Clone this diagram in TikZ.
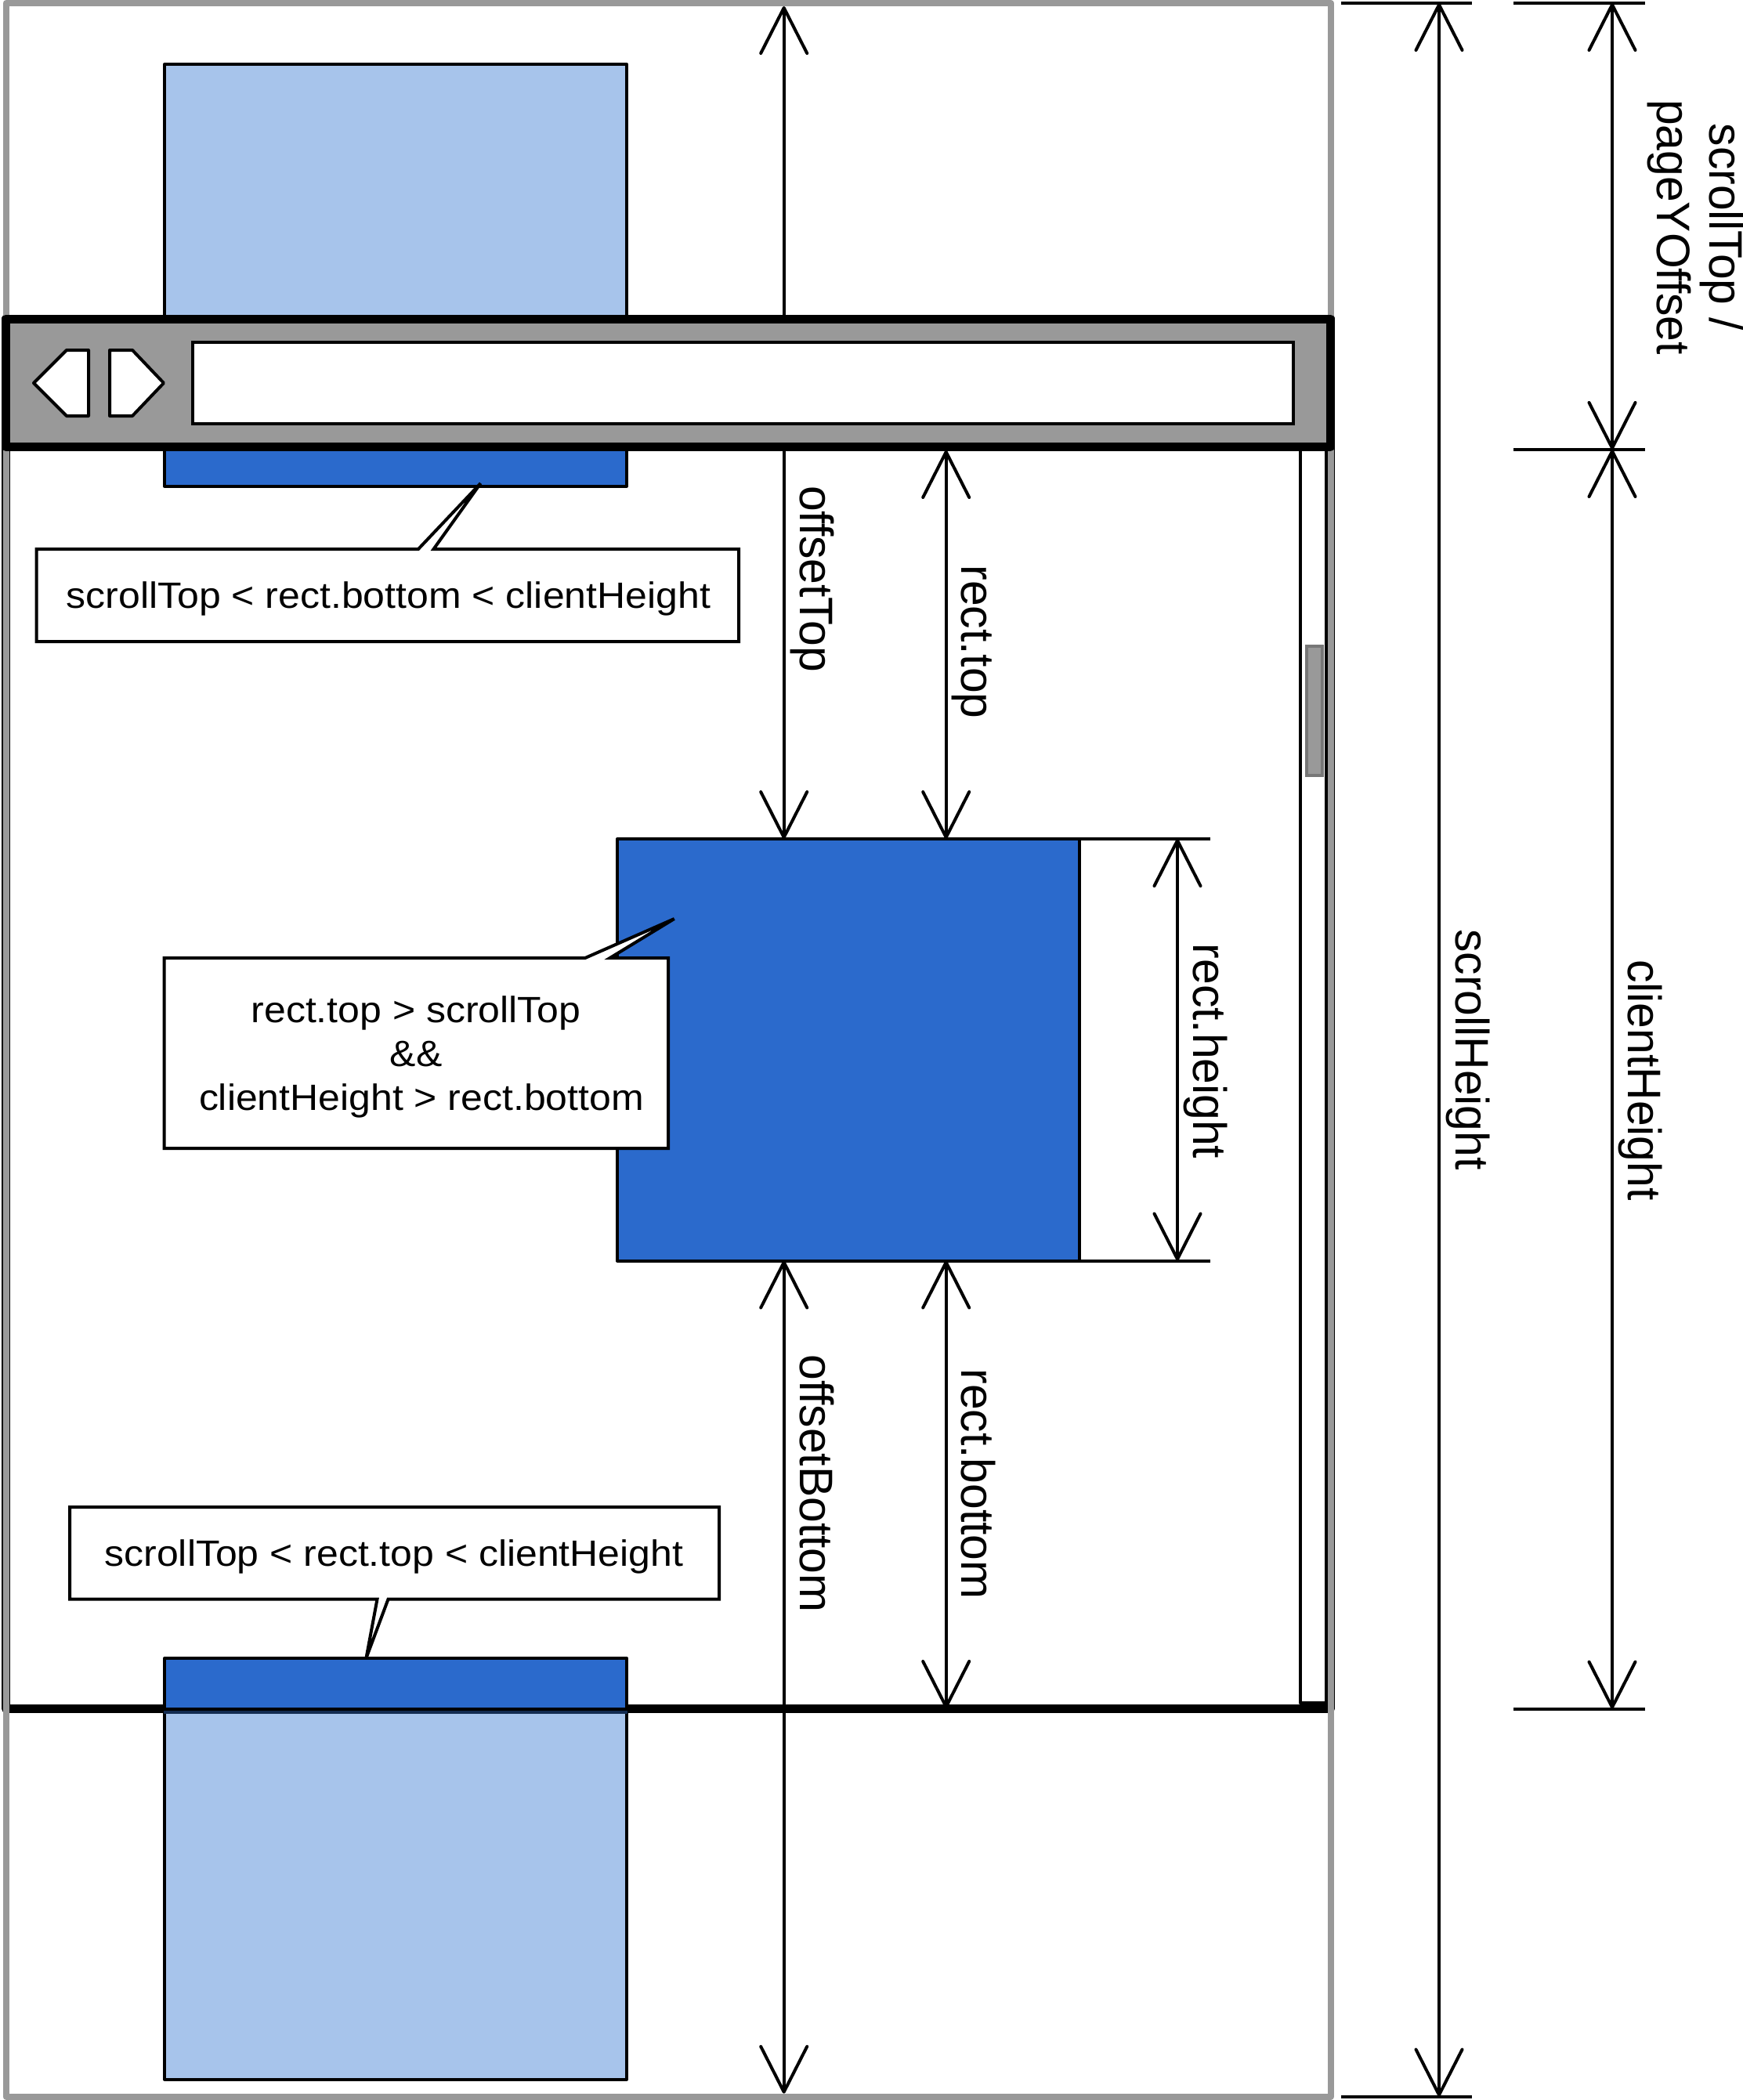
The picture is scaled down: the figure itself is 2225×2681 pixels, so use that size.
\documentclass[tikz,border=0pt]{standalone}
\usepackage{fontspec}
\usetikzlibrary{arrows.meta}
\newfontfamily\callfont[FakeStretch=1.07]{Liberation Sans}
\newfontfamily\dimfont[FakeStretch=0.98]{Liberation Sans}
\definecolor{pagegrey}{HTML}{999999}
\definecolor{thumbedge}{HTML}{777777}
\definecolor{darkblue}{HTML}{2B6ACC}
\definecolor{lightblue}{HTML}{A7C4EB}
\definecolor{navy}{HTML}{132B50}
\tikzset{
  x=0.5pt,y=-0.5pt,
  blackline/.style={draw=black,line width=2pt,line join=round},
  lightbox/.style={blackline,fill=lightblue},
  bluebox/.style={blackline,fill=darkblue},
  callbox/.style={draw=black,line width=2pt,line join=miter,fill=white},
  calltext/.style={inner sep=0pt,outer sep=0pt,anchor=base,align=center,font=\callfont\fontsize{23.35pt}{28.15pt}\selectfont},
  dimtext/.style={inner sep=0pt,outer sep=0pt,anchor=base,rotate=-90,align=center,font=\dimfont\fontsize{30pt}{33.5pt}\selectfont},
  dimline/.style={draw=black,line width=2pt,{Straight Barb[length=29pt,width=29.5pt,round]}-{Straight Barb[length=29pt,width=29.5pt,round]}},
  extline/.style={draw=black,line width=2pt},
  btn/.style={draw=black,line width=2pt,fill=white,line join=round},
}
\begin{document}
\begin{tikzpicture}
\useasboundingbox (0,0) rectangle (2225,2681);
\fill[white] (0,0) rectangle (2225,2681);
% top element behind the toolbar
\draw[lightbox] (210,82) rectangle (800,420);
\draw[bluebox] (210,560) rectangle (800,620.7);
% viewport frame
\draw[draw=black,line width=5.5pt,line join=round] (7.5,407) rectangle (1698.5,2181.5);
% bottom element
\draw[lightbox] (210,2181.5) rectangle (800,2654.5);
\fill[navy] (209,2183.5) rectangle (801,2187.6);
\draw[bluebox] (210,2117) rectangle (800,2181.5);
% scrollbar
\draw[blackline,line width=2pt,fill=white] (1659.5,570) rectangle (1693,2174);
\draw[draw=thumbedge,line width=2pt,fill=pagegrey] (1668,825) rectangle (1688,990);
% page outline
\draw[draw=pagegrey,line width=4pt,line join=round] (7.5,4) rectangle (1699,2676.5);
% element in the middle
\node[bluebox,inner sep=0pt,outer sep=0pt,minimum width=295pt,minimum height=269.25pt] (midrect) at (1083,1340.25) {};
% named ends
\coordinate (otTop) at (1000.7,8);
\coordinate (obBot) at (1000.7,2672.7);
\coordinate (rtTop) at (1207.7,575);
\coordinate (rbBot) at (1207.7,2181);
\coordinate (rhLine) at (1503,1340);
\coordinate (rhExt) at (1545,1340);
\coordinate (shTop) at (1837,4);
\coordinate (shBot) at (1837,2676.5);
\coordinate (shExtA) at (1712,4);
\coordinate (shExtB) at (1879,4);
\coordinate (shExtC) at (1712,2676.5);
\coordinate (shExtD) at (1879,2676.5);
\coordinate (stTop) at (2058,4);
\coordinate (stMid) at (2058,574);
\coordinate (stBot) at (2058,2181.6);
\coordinate (stExtA) at (1932,4);
\coordinate (stExtB) at (2100,4);
\coordinate (stExtC) at (1932,574);
\coordinate (stExtD) at (2100,574);
\coordinate (stExtE) at (1932,2181.6);
\coordinate (stExtF) at (2100,2181.6);
% connectors
\draw[dimline] (otTop) -- (otTop |- midrect.north);
\draw[dimline] (rtTop) -- (rtTop |- midrect.north);
\draw[dimline] (otTop |- midrect.south) -- (obBot);
\draw[dimline] (rtTop |- midrect.south) -- (rbBot);
\draw[extline] (midrect.north east) -- (rhExt |- midrect.north);
\draw[extline] (midrect.south east) -- (rhExt |- midrect.south);
\draw[dimline] (rhLine |- midrect.north) -- (rhLine |- midrect.south);
\draw[extline] (shExtA) -- (shExtB);
\draw[extline] (shExtC) -- (shExtD);
\draw[dimline] (shTop) -- (shBot);
\draw[extline] (stExtA) -- (stExtB);
\draw[extline] (stExtC) -- (stExtD);
\draw[extline] (stExtE) -- (stExtF);
\draw[dimline] (stTop) -- (stMid);
\draw[dimline] (stMid) -- (stBot);
% toolbar
\draw[draw=black,fill=pagegrey,line width=5.5pt,line join=round] (7.5,407) rectangle (1698.5,570.5);
\draw[draw=black,fill=white,line width=2pt] (246,437) rectangle (1651,541);
\draw[btn] (43,489) -- (85,447) -- (113,447) -- (113,531) -- (85,531) -- cycle;
\draw[btn] (209,489) -- (169,447) -- (140,447) -- (140,531) -- (169,531) -- cycle;
% callouts
\draw[callbox] (46.5,701) -- (534,701) -- (613.5,617) -- (553.5,701) -- (943,701) -- (943,819) -- (46.5,819) -- cycle;
\node[calltext] (noteA) at (496,776.7) {scrollTop < rect.bottom < clientHeight};
\draw[callbox] (209.7,1223) -- (747,1223) -- (860.7,1173) -- (778.6,1223) -- (853,1223) -- (853,1466) -- (209.7,1466) -- cycle;
\node[calltext] (noteB) at (531,1417.7) {rect.top > scrollTop\\\&\&\\\hspace*{7pt}clientHeight > rect.bottom};
\draw[callbox] (89,1924) -- (918,1924) -- (918,2041.7) -- (495.5,2041.7) -- (467.5,2116.7) -- (481.5,2041.7) -- (89,2041.7) -- cycle;
\node[calltext] (noteC) at (503,1999) {scrollTop < rect.top < clientHeight};
% dimension labels
\node[dimtext] (lOffT) at (1021,739) {offsetTop};
\node[dimtext] (lRectT) at (1227.7,819.5) {rect.top};
\node[dimtext] (lOffB) at (1021,1894) {offsetBottom};
\node[dimtext] (lRectB) at (1227.7,1894.5) {rect.bottom};
\node[dimtext] (lRectH) at (1523.3,1342) {rect.height};
\node[dimtext] (lSH) at (1858.3,1340) {scrollHeight};
\node[dimtext] (lCH) at (2078.3,1379) {clientHeight};
\node[dimtext] (lST) at (2115,290) {scrollTop /\\pageYOffset};
\end{tikzpicture}
\end{document}
